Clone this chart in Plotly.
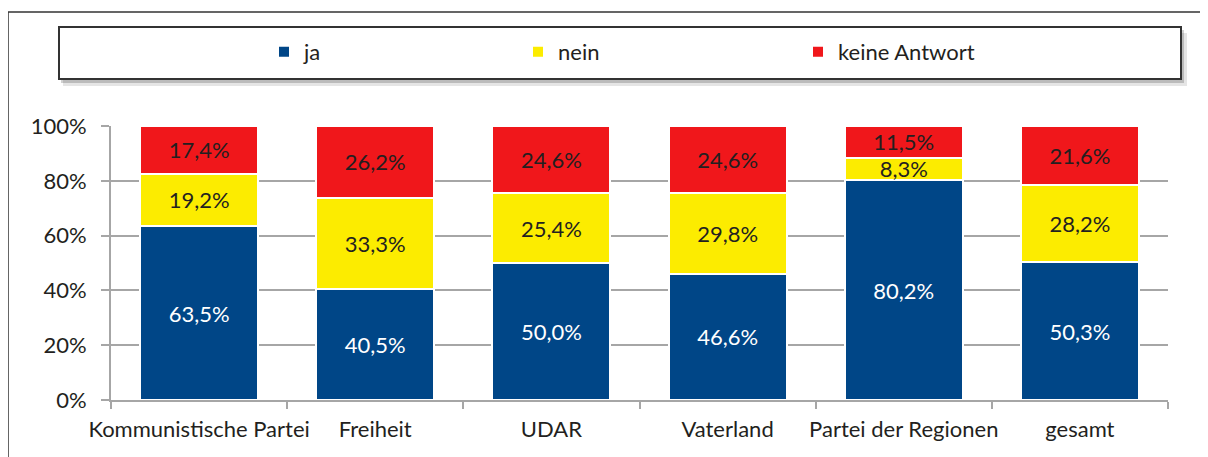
import plotly.graph_objects as go

categories = ["Kommunistische Partei", "Freiheit", "UDAR", "Vaterland", "Partei der Regionen", "gesamt"]
ja = [63.5, 40.5, 50.0, 46.6, 80.2, 50.3]
nein = [19.2, 33.3, 25.4, 29.8, 8.3, 28.2]
keine = [17.4, 26.2, 24.6, 24.6, 11.5, 21.6]
series_names = ["ja", "nein", "keine Antwort"]
y_ticks = [0, 20, 40, 60, 80, 100]
y_tick_labels = ["0%", "20%", "40%", "60%", "80%", "100%"]

colors = ["#004687", "#FCEC00", "#F0171B"]
text_colors = ["#FFFFFF", "#231F20", "#231F20"]
FONT = "Lato"
FS = 22

# page body has an 8px margin: work in screen coordinates, figure is offset by 8
OFF = 8
W, H = 1208 - OFF, 457 - OFF
L, R, T, B = 111, 1168, 126, 400  # plot area in screen pixels


def px(x):
    return (x - L) / (R - L)


def py(y):
    return (B - y) / (B - T)


def fmt(v):
    return f"{v:.1f}".replace(".", ",") + "%"


fig = go.Figure()
legend_names = ["legend", "legend2", "legend3"]
for i, (name, vals) in enumerate(zip(series_names, [ja, nein, keine])):
    fig.add_trace(go.Bar(
        name=name,
        x=categories,
        y=vals,
        marker=dict(color=colors[i], line=dict(color="white", width=2)),
        text=[fmt(v) for v in vals],
        textposition="inside",
        insidetextanchor="middle",
        textangle=0,
        constraintext="none",
        textfont=dict(family=FONT, size=FS, color=text_colors[i]),
        hoverinfo="skip",
        legend=legend_names[i],
        cliponaxis=False,
    ))

# outer frame and legend box
shapes = [
    dict(type="rect", xref="paper", yref="paper",
         x0=px(8), x1=px(1230), y0=py(480), y1=py(12),
         line=dict(color="#333333", width=1.5), fillcolor="rgba(0,0,0,0)", layer="below"),
    dict(type="rect", xref="paper", yref="paper",
         x0=px(63), x1=px(1187), y0=py(86), y1=py(33),
         line=dict(width=0), fillcolor="rgba(0,0,0,0.10)", layer="below"),
    dict(type="rect", xref="paper", yref="paper",
         x0=px(61), x1=px(1184), y0=py(83), y1=py(30),
         line=dict(width=0), fillcolor="rgba(0,0,0,0.18)", layer="below"),
    dict(type="rect", xref="paper", yref="paper",
         x0=px(59), x1=px(1181), y0=py(79), y1=py(27),
         line=dict(color="#333333", width=2), fillcolor="white", layer="below"),
]

legend_marker_centers = [284, 538, 818]
legend_common = dict(orientation="h", bgcolor="rgba(0,0,0,0)", borderwidth=0,
                     font=dict(family=FONT, size=FS, color="#231F20"),
                     xanchor="left", yanchor="middle", itemwidth=30)
layout_legends = {}
for i, ln in enumerate(legend_names):
    layout_legends[ln] = dict(x=px(legend_marker_centers[i] - 20), y=py(52), **legend_common)

fig.update_layout(
    width=W, height=H,
    margin=dict(l=L - OFF, r=W - (R - OFF), t=T - OFF, b=H - (B - OFF), autoexpand=False),
    barmode="stack",
    barnorm="percent",
    bargap=0.33,
    plot_bgcolor="white",
    paper_bgcolor="white",
    showlegend=True,
    shapes=shapes,
    font=dict(family=FONT, size=FS, color="#231F20"),
    uniformtext=dict(mode=False),
    **layout_legends,
)

fig.update_yaxes(
    range=[0, 100.01],
    tickvals=y_ticks,
    ticktext=y_tick_labels,
    showgrid=True, gridcolor="#A6A6A6", gridwidth=2,
    showline=True, linecolor="#A6A6A6", linewidth=2,
    ticks="outside", ticklen=8, tickcolor="#A6A6A6", tickwidth=2,
    ticklabelstandoff=10,
    tickfont=dict(family=FONT, size=FS, color="#231F20"),
    zeroline=False,
    automargin=False,
    fixedrange=True,
)
fig.update_xaxes(
    showline=True, linecolor="#A6A6A6", linewidth=2,
    ticks="outside", ticklen=7, tickcolor="#A6A6A6", tickwidth=2,
    tickson="boundaries",
    tickangle=0,
    tickfont=dict(family=FONT, size=FS, color="#231F20"),
    ticklabelstandoff=9,
    automargin=False,
    fixedrange=True,
)

fig.write_html("out.html")
